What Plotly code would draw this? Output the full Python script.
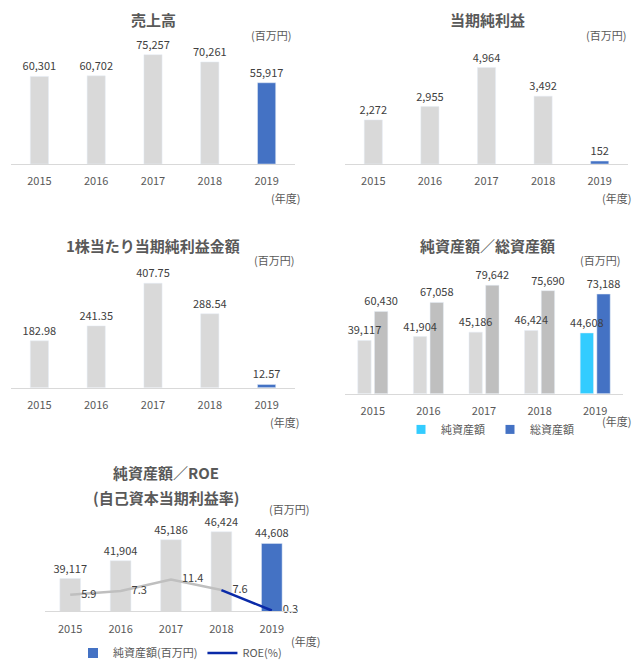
import plotly.graph_objects as go

# 年度
years = ["2015", "2016", "2017", "2018", "2019"]
# 売上高 (百万円)
sales = [60301, 60702, 75257, 70261, 55917]
# 当期純利益 (百万円)
net_income = [2272, 2955, 4964, 3492, 152]
# 1株当たり当期純利益金額
eps = [182.98, 241.35, 407.75, 288.54, 12.57]
# 純資産額 / 総資産額 (百万円)
net_assets = [39117, 41904, 45186, 46424, 44608]
total_assets = [60430, 67058, 79642, 75690, 73188]
# ROE (%)
roe = [5.9, 7.3, 11.4, 7.6, 0.3]

W, H = 640, 668
FONT = "Noto Sans CJK JP"
GRAY = "#d9d9d9"
GRAY2 = "#bfbfbf"
BLUE = "#4472c4"
CYAN = "#33ccff"
NAVY = "#0a2aa8"
TXT = "#595959"
LBL = "#404040"


def px_x(v):
    return v / W


def px_y(v):
    return 1 - v / H


def hl(colors_last, n=5):
    return [GRAY] * (n - 1) + [colors_last]


fig = go.Figure()

lbl_font = dict(family=FONT, size=11, color=LBL)
bar_common = dict(textposition="outside", textfont=lbl_font, cliponaxis=False,
                  constraintext="none", showlegend=False)
# invisible markers only push the ROE labels a bit to the right
ghost = dict(size=16, color="rgba(0,0,0,0)")

# panel 1: 売上高
fig.add_trace(go.Bar(x=years, y=sales, marker=dict(color=hl(BLUE)), width=0.32,
                     texttemplate="%{y:,}", xaxis="x", yaxis="y", **bar_common))
# panel 2: 当期純利益
fig.add_trace(go.Bar(x=years, y=net_income, marker=dict(color=hl(BLUE)), width=0.32,
                     texttemplate="%{y:,}", xaxis="x2", yaxis="y2", **bar_common))
# panel 3: 1株当たり
fig.add_trace(go.Bar(x=years, y=eps, marker=dict(color=hl(BLUE)), width=0.32,
                     texttemplate="%{y:.2f}", xaxis="x3", yaxis="y3", **bar_common))
# panel 4: 純資産額／総資産額 (総資産 first so the 純資産 labels sit on top)
fig.add_trace(go.Bar(x=years, y=total_assets, marker=dict(color=[GRAY2] * 4 + [BLUE]),
                     width=0.24, offset=0.03, texttemplate="%{y:,}",
                     xaxis="x4", yaxis="y4", **bar_common))
fig.add_trace(go.Bar(x=years, y=net_assets, marker=dict(color=hl(CYAN)),
                     width=0.24, offset=-0.27, texttemplate="%{y:,}",
                     xaxis="x4", yaxis="y4", **bar_common))
fig.add_trace(go.Scatter(x=[None], y=[None], mode="markers", name="純資産額",
                         marker=dict(symbol="square", size=9, color=CYAN),
                         legend="legend", xaxis="x4", yaxis="y4"))
fig.add_trace(go.Scatter(x=[None], y=[None], mode="markers", name="総資産額",
                         marker=dict(symbol="square", size=9, color=BLUE),
                         legend="legend", xaxis="x4", yaxis="y4"))
# panel 5: 純資産額／ROE
fig.add_trace(go.Bar(x=years, y=net_assets, marker=dict(color=hl(BLUE)), width=0.41,
                     texttemplate="%{y:,}", xaxis="x5", yaxis="y5", **bar_common))
fig.add_trace(go.Scatter(x=years[:4], y=roe[:4], mode="lines+markers+text",
                         line=dict(color=GRAY2, width=2.5), marker=ghost,
                         text=[f"{v:.1f}" for v in roe[:4]], textposition="middle right",
                         textfont=lbl_font, cliponaxis=False, showlegend=False,
                         xaxis="x5", yaxis="y6"))
fig.add_trace(go.Scatter(x=years[3:], y=roe[3:], mode="lines+markers+text",
                         line=dict(color=NAVY, width=2.5), marker=ghost,
                         text=["", f"{roe[4]:.1f}"], textposition="middle right",
                         textfont=lbl_font, cliponaxis=False, showlegend=False,
                         xaxis="x5", yaxis="y6"))
fig.add_trace(go.Scatter(x=[None], y=[None], mode="markers", name="純資産額(百万円)",
                         marker=dict(symbol="square", size=10, color=BLUE),
                         legend="legend2", xaxis="x5", yaxis="y5"))
fig.add_trace(go.Scatter(x=[None], y=[None], mode="lines", name="ROE(%)",
                         line=dict(color=NAVY, width=2.5),
                         legend="legend2", xaxis="x5", yaxis="y5"))


def xax(x0, x1, anchor):
    return dict(domain=[px_x(x0), px_x(x1)], anchor=anchor, type="category",
                range=[-0.5, 4.5], showline=True, linecolor=GRAY, linewidth=1,
                showgrid=False, zeroline=False, ticks="", fixedrange=True,
                ticklabelstandoff=7,
                tickfont=dict(family=FONT, size=11, color=TXT))


def yax(top, base, rng):
    return dict(domain=[px_y(base), px_y(top)], range=rng, visible=False,
                showgrid=False, zeroline=False, fixedrange=True)


leg = dict(orientation="h", xanchor="center", yanchor="middle",
           bgcolor="rgba(0,0,0,0)", font=dict(family=FONT, size=11, color=TXT),
           itemwidth=30)

fig.update_layout(
    width=W, height=H, margin=dict(l=0, r=0, t=0, b=0),
    paper_bgcolor="white", plot_bgcolor="rgba(0,0,0,0)",
    barmode="overlay", font=dict(family=FONT, color=TXT),
    xaxis=xax(11, 295, "y"), yaxis=yax(40, 165, [0, 75257 * 125 / 110]),
    xaxis2=xax(345, 628, "y2"), yaxis2=yax(40, 165, [0, 4964 * 125 / 97]),
    xaxis3=xax(11, 295, "y3"), yaxis3=yax(265, 390, [0, 407.75 * 125 / 105]),
    xaxis4=xax(345, 623, "y4"), yaxis4=yax(271, 396, [0, 79642 * 125 / 109]),
    xaxis5=xax(45, 297, "y5"), yaxis5=yax(505, 615, [34000, 34000 + 110 / 0.006439]),
    yaxis6=dict(domain=[px_y(615), px_y(505)], range=[0, 110 / 2.81], visible=False,
                overlaying="y5", showgrid=False, zeroline=False, fixedrange=True),
    legend=dict(leg, x=px_x(490), y=px_y(432)),
    legend2=dict(leg, x=px_x(180), y=px_y(657)),
)

titles = [
    ("売上高", 153, 20),
    ("当期純利益", 487, 20),
    ("1株当たり当期純利益金額", 153, 247),
    ("純資産額／総資産額", 487, 247),
    ("純資産額／ROE", 166, 475),
    ("(自己資本当期利益率)", 166, 500),
]
for txt, x, y in titles:
    fig.add_annotation(text=txt, x=px_x(x), y=px_y(y), xref="paper", yref="paper",
                       showarrow=False, xanchor="center", yanchor="middle",
                       font=dict(family=FONT, size=15, color=TXT, weight="bold"))

notes = [
    ("(百万円)", 271, 35), ("(年度)", 285, 199),
    ("(百万円)", 606, 35), ("(年度)", 616, 199),
    ("(百万円)", 274, 262), ("(年度)", 284, 425),
    ("(百万円)", 600, 262), ("(年度)", 616, 424),
    ("(百万円)", 289, 512), ("(年度)", 305, 645),
]
for txt, x, y in notes:
    fig.add_annotation(text=txt, x=px_x(x), y=px_y(y), xref="paper", yref="paper",
                       showarrow=False, xanchor="center", yanchor="middle",
                       font=dict(family=FONT, size=11, color=TXT))

fig.write_html("out.html", config={"displayModeBar": False},
               post_script="document.body.style.margin='0';")
